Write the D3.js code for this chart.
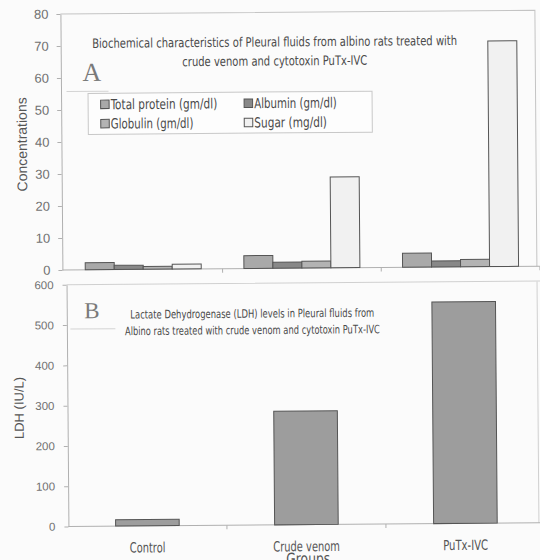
<!DOCTYPE html>
<html>
<head>
<meta charset="utf-8">
<script src="https://cdn.jsdelivr.net/npm/d3@7"></script>
<style>
  html, body { margin: 0; padding: 0; background: #fbfbfb; }
  svg { display: block; }
  text { font-family: "Liberation Sans", Arial, sans-serif; }
  .narrow { font-family: "Liberation Sans Narrow", "DejaVu Sans Condensed", "Liberation Sans", sans-serif; }
</style>
</head>
<body>
<svg id="chart" width="540" height="560"></svg>
<script>
// panel A data
const groups = ["Control", "Crude venom", "PuTx-IVC"];
const seriesA = ["Total protein (gm/dl)", "Albumin (gm/dl)", "Globulin (gm/dl)", "Sugar (mg/dl)"];
const totalProtein = [2.2, 4.0, 4.4];
const albumin = [1.3, 1.9, 1.9];
const globulin = [0.9, 2.1, 2.3];
const sugar = [1.5, 28.4, 70.5];
const ticksA = [0, 10, 20, 30, 40, 50, 60, 70, 80];
// panel B data
const ldh = [16, 282, 550];
const ticksB = [0, 100, 200, 300, 400, 500, 600];

const titleA = ["Biochemical characteristics of Pleural fluids from albino rats treated with",
  "crude venom and cytotoxin PuTx-IVC"];
const titleB = ["Lactate Dehydrogenase (LDH) levels in Pleural fluids from",
  "Albino rats treated with crude venom and cytotoxin PuTx-IVC"];

const colorA = ["#a9a9a9", "#888888", "#b3b3b3", "#f1f1f1"];
const barStroke = "#555";
const axisColor = "#b0b0b0";
const tickText = "#707070";

const svg = d3.select("#chart");
// the source is a slightly tilted scan
const root = svg.append("g").attr("transform", "rotate(-0.45, 270, 280)");

// ---------- panel A ----------
const a = root.append("g").attr("class", "panel-a");
const xA = d3.scaleBand().domain(groups).range([64, 540]).paddingInner(0.269).paddingOuter(0.1345);
const x1A = d3.scaleBand().domain(seriesA).range([0, xA.bandwidth()]);
const yA = d3.scaleLinear().domain([0, 80]).range([268.3, 12.3]);
const valsA = [totalProtein, albumin, globulin, sugar];

// frame
a.append("path")
  .attr("d", `M62.5,${yA(80)}H537V${yA(0)}`)
  .attr("fill", "none").attr("stroke", "#c4c4c4").attr("stroke-width", 1);

const gyA = a.append("g").attr("transform", "translate(62.5,0)")
  .call(d3.axisLeft(yA).tickValues(ticksA).tickSize(4).tickPadding(8).tickSizeOuter(0));
gyA.selectAll("path,line").attr("stroke", axisColor);
gyA.selectAll("text").attr("fill", tickText).style("font-size", "13px");

a.append("line").attr("x1", 62.5).attr("x2", 540).attr("y1", yA(0)).attr("y2", yA(0))
  .attr("stroke", axisColor);
a.selectAll("line.xtick").data(d3.range(1, groups.length + 1)).join("line")
  .attr("class", "xtick")
  .attr("x1", i => xA.range()[0] + i * xA.step()).attr("x2", i => xA.range()[0] + i * xA.step())
  .attr("y1", yA(0)).attr("y2", yA(0) + 4).attr("stroke", axisColor);

const flatA = groups.flatMap((g, gi) => seriesA.map((s, si) => ({ g, s, si, v: valsA[si][gi] })));
a.selectAll("rect.bar").data(flatA).join("rect")
  .attr("class", "bar")
  .attr("x", d => xA(d.g) + x1A(d.s))
  .attr("y", d => yA(d.v))
  .attr("width", x1A.bandwidth())
  .attr("height", d => yA(0) - yA(d.v))
  .attr("fill", d => colorA[d.si])
  .attr("stroke", barStroke).attr("stroke-width", 1);

a.append("text").attr("transform", "translate(23,142.5) rotate(-90)")
  .attr("text-anchor", "middle").attr("dy", "0.35em")
  .attr("fill", "#555").style("font-size", "14px").text("Concentrations");

a.selectAll("text.title").data(titleA).join("text")
  .attr("class", "title narrow")
  .attr("x", 276.5).attr("y", (d, i) => 46.5 + i * 19)
  .attr("text-anchor", "middle")
  .attr("textLength", (d, i) => [365, 185][i]).attr("lengthAdjust", "spacingAndGlyphs")
  .attr("fill", "#4a4a4a").style("font-size", "13px").text(d => d);

a.append("text").attr("x", 84).attr("y", 79.5)
  .style("font-family", "'Liberation Serif', 'DejaVu Serif', serif")
  .style("font-size", "26px").attr("fill", "#7a7a7a").text("A");
a.append("line").attr("x1", 68).attr("x2", 110).attr("y1", 90).attr("y2", 90)
  .attr("stroke", "#d4d4d4");

// legend
const leg = a.append("g");
leg.append("rect").attr("x", 89.5).attr("y", 92).attr("width", 284).attr("height", 41)
  .attr("fill", "#fdfdfd").attr("stroke", "#c8c8c8");
const legItems = leg.selectAll("g.item").data(seriesA).join("g")
  .attr("class", "item")
  .attr("transform", (d, i) => `translate(${[102, 245.5][i % 2]},${[103, 122.3][Math.floor(i / 2)]})`);
legItems.append("rect").attr("x", 0).attr("y", -4.2).attr("width", 8.5).attr("height", 8.5)
  .attr("fill", (d, i) => colorA[i]).attr("stroke", barStroke);
legItems.append("text").attr("class", "narrow").attr("x", 10).attr("dy", "0.36em")
  .attr("textLength", (d, i) => [106.6, 82.7, 82.6, 72.7][i]).attr("lengthAdjust", "spacingAndGlyphs")
  .attr("fill", "#4a4a4a").style("font-size", "14px").text(d => d);

// ---------- panel B ----------
const b = root.append("g").attr("class", "panel-b");
const xB = d3.scaleBand().domain(groups).range([66, 543]).paddingInner(0.6).paddingOuter(0.3);
const yB = d3.scaleLinear().domain([0, 600]).range([524.9, 283.2]);

b.append("path")
  .attr("d", `M66.5,${yB(600)}H540M537,${yB(600)}V${yB(0)}`)
  .attr("fill", "none").attr("stroke", "#d0d0d0").attr("stroke-width", 1);

const gyB = b.append("g").attr("transform", "translate(66.5,0)")
  .call(d3.axisLeft(yB).tickValues(ticksB).tickSize(4).tickPadding(9).tickSizeOuter(0));
gyB.selectAll("path,line").attr("stroke", axisColor);
gyB.selectAll("text").attr("fill", tickText).style("font-size", "11.5px");

b.append("line").attr("x1", 66.5).attr("x2", 540).attr("y1", yB(0)).attr("y2", yB(0))
  .attr("stroke", axisColor);
b.selectAll("line.xtick").data(d3.range(1, groups.length)).join("line")
  .attr("class", "xtick")
  .attr("x1", i => xB.range()[0] + i * xB.step()).attr("x2", i => xB.range()[0] + i * xB.step())
  .attr("y1", yB(0)).attr("y2", yB(0) + 4).attr("stroke", axisColor);

b.selectAll("rect.bar").data(groups).join("rect")
  .attr("class", "bar")
  .attr("x", d => xB(d))
  .attr("y", (d, i) => yB(ldh[i]))
  .attr("width", xB.bandwidth())
  .attr("height", (d, i) => yB(0) - yB(ldh[i]))
  .attr("fill", "#9d9d9d").attr("stroke", barStroke).attr("stroke-width", 1);

b.selectAll("text.cat").data(groups).join("text")
  .attr("class", "cat narrow")
  .attr("x", d => xB(d) + xB.bandwidth() / 2).attr("y", 551.5)
  .attr("text-anchor", "middle")
  .attr("textLength", (d, i) => [35.7, 66.7, 45][i]).attr("lengthAdjust", "spacingAndGlyphs")
  .attr("fill", "#555").style("font-size", "14px").text(d => d);

b.append("text").attr("class", "narrow").attr("x", 306).attr("y", 564.5)
  .attr("text-anchor", "middle").attr("textLength", 44).attr("lengthAdjust", "spacingAndGlyphs")
  .attr("fill", "#555").style("font-size", "16px").text("Groups");

b.append("text").attr("transform", "translate(18,406) rotate(-90)")
  .attr("text-anchor", "middle").attr("dy", "0.35em")
  .attr("fill", "#555").style("font-size", "13px").text("LDH (IU/L)");

b.selectAll("text.title").data(titleB).join("text")
  .attr("class", "title narrow")
  .attr("x", 252).attr("y", (d, i) => 317.5 + i * 16.5)
  .attr("text-anchor", "middle")
  .attr("textLength", (d, i) => [244, 255][i]).attr("lengthAdjust", "spacingAndGlyphs")
  .attr("fill", "#4a4a4a").style("font-size", "11.5px").text(d => d);

b.append("text").attr("x", 84).attr("y", 316.8)
  .style("font-family", "'Liberation Serif', 'DejaVu Serif', serif")
  .style("font-size", "23px").attr("fill", "#7a7a7a").text("B");
b.append("line").attr("x1", 70).attr("x2", 115).attr("y1", 327.5).attr("y2", 327.5)
  .attr("stroke", "#d4d4d4");
</script>
</body>
</html>
